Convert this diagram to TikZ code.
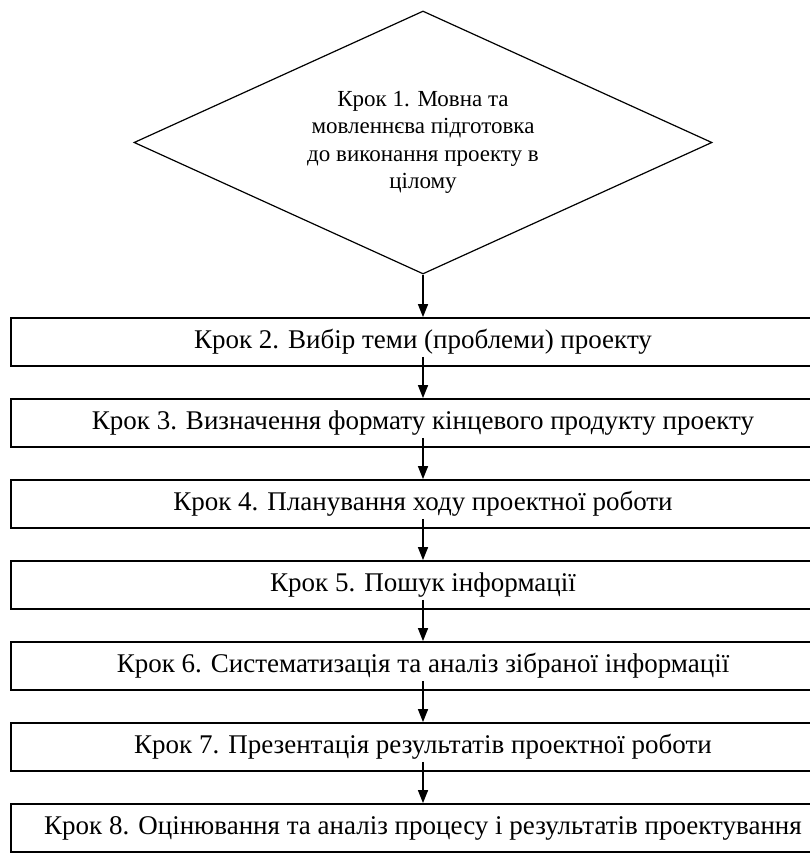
\documentclass[tikz,border=0pt]{standalone}
\usepackage{fontspec}
\setmainfont{Liberation Serif}
\usepackage{tikz}
\usetikzlibrary{arrows.meta,shapes.geometric}

\begin{document}
\begin{tikzpicture}[
  x=1pt, y=-1pt,
  decision/.style={
    draw,
    shape=diamond,
    aspect=2.2,
    minimum width=578pt,
    minimum height=263pt,
    inner sep=0pt,
    align=center,
    line width=1.2pt,
    font=\fontsize{23}{27.5}\selectfont
  },
  stepbox/.style={
    draw,
    minimum width=824pt,
    minimum height=48pt,
    inner sep=0pt,
    align=center,
    line width=1.8pt,
    font=\fontsize{27}{30}\selectfont
  },
  flow/.style={-{Triangle[length=13pt,width=10pt]}, line width=1.5pt}
]
\useasboundingbox (0,0) rectangle (810,853);
\def\XMid{423}
\node[decision] (step1) at (\XMid,142.5)
  {Крок 1. Мовна та\\ мовленнєва підготовка\\ до виконання проекту в\\ цілому};
\node[stepbox] (step2) at (\XMid,342) {Крок 2. Вибір теми (проблеми) проекту};
\node[stepbox] (step3) at (\XMid,423) {Крок 3. Визначення формату кінцевого продукту проекту};
\node[stepbox] (step4) at (\XMid,504) {Крок 4. Планування ходу проектної роботи};
\node[stepbox] (step5) at (\XMid,585) {Крок 5. Пошук інформації};
\node[stepbox] (step6) at (\XMid,666) {Крок 6. Систематизація та аналіз зібраної інформації};
\node[stepbox] (step7) at (\XMid,747) {Крок 7. Презентація результатів проектної роботи};
\node[stepbox] (step8) at (\XMid,828) {Крок 8. Оцінювання та аналіз процесу і результатів проектування};

\draw[flow] (step1.south) -- (step2.north);
\foreach \a/\b in {2/3,3/4,4/5,5/6,6/7,7/8}
  \draw[flow] ([yshift=10pt]step\a.south) -- (step\b.north);
\end{tikzpicture}
\end{document}
